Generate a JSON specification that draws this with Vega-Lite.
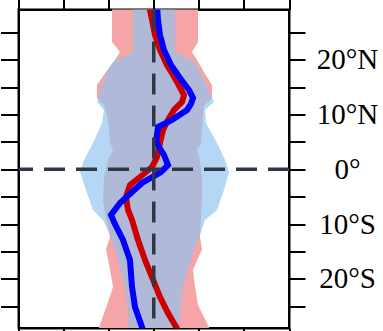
{
  "$schema": "https://vega.github.io/schema/vega-lite/v6.json",
  "width": 270.5,
  "height": 318.5,
  "autosize": {"type": "none"},
  "padding": {"left": 18.5, "top": 9.5, "right": 94, "bottom": 3},
  "background": "white",
  "config": {
    "view": {"stroke": "black", "strokeWidth": 2},
    "axis": {"domainColor": "black", "domainWidth": 2, "tickColor": "black", "tickWidth": 2, "tickSize": 17, "labels": false, "title": null, "grid": false}
  },
  "datasets": {
    "redband": [
      {"lat": 29.97, "lo": -0.926, "hi": 0.982},
      {"lat": 23.22, "lo": -0.926, "hi": 0.982},
      {"lat": 21.40, "lo": -0.749, "hi": 0.849},
      {"lat": 19.94, "lo": -0.860, "hi": 0.959},
      {"lat": 17.75, "lo": -1.059, "hi": 1.115},
      {"lat": 15.38, "lo": -1.259, "hi": 1.292},
      {"lat": 13.01, "lo": -1.259, "hi": 1.292},
      {"lat": 11.55, "lo": -1.104, "hi": 1.115},
      {"lat": 9.91, "lo": -1.037, "hi": 1.093},
      {"lat": 7.17, "lo": -0.993, "hi": 1.070},
      {"lat": 4.80, "lo": -0.970, "hi": 1.048},
      {"lat": 3.52, "lo": -0.904, "hi": 0.959},
      {"lat": 1.70, "lo": -1.015, "hi": 1.026},
      {"lat": -1.40, "lo": -1.104, "hi": 1.070},
      {"lat": -5.60, "lo": -1.126, "hi": 1.070},
      {"lat": -9.25, "lo": -1.059, "hi": 1.048},
      {"lat": -12.35, "lo": -0.970, "hi": 1.026},
      {"lat": -14.64, "lo": -1.059, "hi": 1.070},
      {"lat": -18.29, "lo": -0.970, "hi": 0.871},
      {"lat": -21.47, "lo": -0.904, "hi": 0.915},
      {"lat": -24.75, "lo": -1.035, "hi": 0.982},
      {"lat": -29.86, "lo": -1.260, "hi": 1.290}
    ],
    "blueband": [
      {"lat": 29.97, "lo": -0.460, "hi": 0.471},
      {"lat": 21.40, "lo": -0.460, "hi": 0.471},
      {"lat": 19.58, "lo": -0.904, "hi": 0.915},
      {"lat": 17.75, "lo": -1.059, "hi": 1.026},
      {"lat": 15.38, "lo": -1.148, "hi": 1.159},
      {"lat": 12.28, "lo": -1.259, "hi": 1.337},
      {"lat": 10.82, "lo": -1.104, "hi": 1.137},
      {"lat": 8.45, "lo": -1.148, "hi": 1.159},
      {"lat": 4.80, "lo": -1.348, "hi": 1.403},
      {"lat": 1.70, "lo": -1.547, "hi": 1.581},
      {"lat": -0.49, "lo": -1.636, "hi": 1.669},
      {"lat": -3.78, "lo": -1.503, "hi": 1.558},
      {"lat": -7.42, "lo": -1.348, "hi": 1.403},
      {"lat": -9.25, "lo": -1.126, "hi": 1.137},
      {"lat": -11.99, "lo": -0.970, "hi": 1.026},
      {"lat": -15.27, "lo": -0.837, "hi": 0.871},
      {"lat": -21.47, "lo": -0.638, "hi": 0.649},
      {"lat": -29.86, "lo": -0.527, "hi": 0.538}
    ],
    "redline": [
      {"lat": 29.97, "x": -0.105},
      {"lat": 27.24, "x": -0.039},
      {"lat": 24.50, "x": 0.028},
      {"lat": 21.76, "x": 0.139},
      {"lat": 19.03, "x": 0.294},
      {"lat": 16.29, "x": 0.494},
      {"lat": 13.55, "x": 0.671},
      {"lat": 12.28, "x": 0.627},
      {"lat": 10.82, "x": 0.449},
      {"lat": 8.99, "x": 0.316},
      {"lat": 7.17, "x": 0.205},
      {"lat": 4.80, "x": 0.139},
      {"lat": 2.24, "x": 0.072},
      {"lat": 0.42, "x": -0.039},
      {"lat": -1.40, "x": -0.305},
      {"lat": -2.86, "x": -0.527},
      {"lat": -5.05, "x": -0.616},
      {"lat": -7.42, "x": -0.571},
      {"lat": -9.25, "x": -0.482},
      {"lat": -12.90, "x": -0.349},
      {"lat": -16.55, "x": -0.194},
      {"lat": -19.65, "x": -0.039},
      {"lat": -23.30, "x": 0.139},
      {"lat": -26.21, "x": 0.316},
      {"lat": -29.68, "x": 0.560}
    ],
    "blueline": [
      {"lat": 29.97, "x": 0.072},
      {"lat": 27.24, "x": 0.094},
      {"lat": 24.50, "x": 0.139},
      {"lat": 21.76, "x": 0.227},
      {"lat": 19.03, "x": 0.383},
      {"lat": 16.66, "x": 0.582},
      {"lat": 14.47, "x": 0.782},
      {"lat": 13.01, "x": 0.871},
      {"lat": 11.91, "x": 0.826},
      {"lat": 10.82, "x": 0.738},
      {"lat": 8.99, "x": 0.405},
      {"lat": 7.72, "x": 0.094},
      {"lat": 4.98, "x": 0.050},
      {"lat": 2.61, "x": 0.227},
      {"lat": 0.78, "x": 0.316},
      {"lat": -0.49, "x": 0.161},
      {"lat": -2.50, "x": -0.261},
      {"lat": -6.15, "x": -0.749},
      {"lat": -8.34, "x": -0.948},
      {"lat": -9.61, "x": -0.882},
      {"lat": -12.90, "x": -0.682},
      {"lat": -16.55, "x": -0.527},
      {"lat": -21.47, "x": -0.482},
      {"lat": -25.12, "x": -0.416},
      {"lat": -28.77, "x": -0.261},
      {"lat": -29.86, "x": -0.216}
    ]
  },
  "layer": [
    {
      "data": {"name": "redband"},
      "mark": {"type": "area", "orient": "horizontal", "color": "#f5a5a5", "clip": true},
      "encoding": {
        "y": {"field": "lat", "type": "quantitative", "scale": {"domain": [-28.95, 29.15], "nice": false, "zero": false},
              "axis": {"orient": "left", "values": [-25, -20, -15, -10, -5, 0, 5, 10, 15, 20, 25], "tickSize": 18}},
        "x": {"field": "lo", "type": "quantitative", "scale": {"domain": [-3, 3], "nice": false, "zero": false},
              "axis": {"orient": "bottom", "values": [-3, -2, -1, 0, 1, 2, 3], "tickSize": 10}},
        "x2": {"field": "hi"}
      }
    },
    {
      "data": {"name": "blueband"},
      "mark": {"type": "area", "orient": "horizontal", "color": "#8ec4f0", "opacity": 0.67, "clip": true},
      "encoding": {
        "y": {"field": "lat", "type": "quantitative",
              "axis": {"orient": "right", "values": [-25, -20, -15, -10, -5, 0, 5, 10, 15, 20, 25], "tickSize": 16,
                       "labels": true, "labelFont": "Liberation Serif", "labelFontSize": 29, "labelColor": "black",
                       "labelAlign": "center", "labelBaseline": "middle", "labelPadding": 42, "labelOverlap": false,
                       "labelExpr": "datum.value % 10 != 0 ? '' : (datum.value > 0 ? datum.value + '°N' : (datum.value < 0 ? (-datum.value) + '°S' : '0°'))"}},
        "x": {"field": "lo", "type": "quantitative",
              "axis": {"orient": "top", "values": [-3, -2, -1, 0, 1, 2, 3], "tickSize": 10}},
        "x2": {"field": "hi"}
      }
    },
    {
      "data": {"name": "redline"},
      "mark": {"type": "line", "color": "#cc0000", "strokeWidth": 6, "clip": true},
      "encoding": {
        "x": {"field": "x", "type": "quantitative", "axis": null},
        "y": {"field": "lat", "type": "quantitative", "axis": null},
        "order": {"field": "lat", "type": "quantitative"}
      }
    },
    {
      "data": {"name": "blueline"},
      "mark": {"type": "line", "color": "#0000ff", "strokeWidth": 6, "clip": true},
      "encoding": {
        "x": {"field": "x", "type": "quantitative", "axis": null},
        "y": {"field": "lat", "type": "quantitative", "axis": null},
        "order": {"field": "lat", "type": "quantitative"}
      }
    },
    {
      "data": {"values": [{"v": 0}]},
      "mark": {"type": "rule", "color": "#2f3844", "strokeWidth": 3.5, "strokeDash": [21, 11]},
      "encoding": {"x": {"field": "v", "type": "quantitative", "axis": null}}
    },
    {
      "data": {"values": [{"v": 0}]},
      "mark": {"type": "rule", "color": "#2f3844", "strokeWidth": 3.5, "strokeDash": [21, 11]},
      "encoding": {"y": {"field": "v", "type": "quantitative", "axis": null}}
    }
  ],
  "resolve": {"axis": {"x": "independent", "y": "independent"}}
}
